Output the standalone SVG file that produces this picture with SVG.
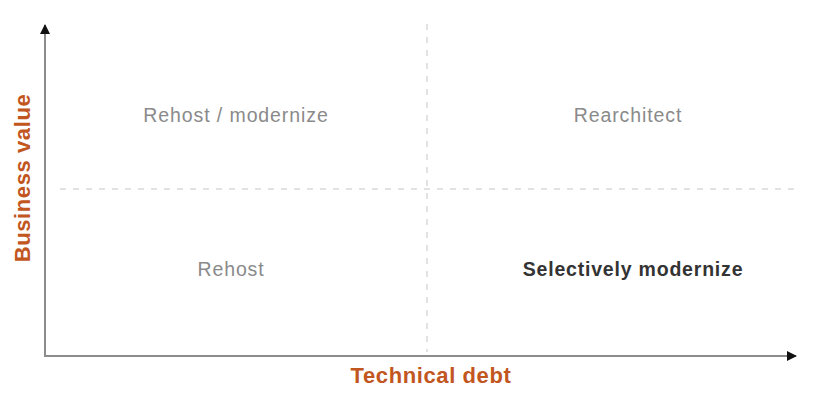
<svg xmlns="http://www.w3.org/2000/svg" width="816" height="410" viewBox="0 0 816 410">
<style>
.q{font-family:"Liberation Sans",Arial,sans-serif;font-size:19.5px;letter-spacing:0.9px;fill:#8a8a8a;text-anchor:middle}
.qb{font-family:"Liberation Sans",Arial,sans-serif;font-size:19.5px;letter-spacing:0.8px;fill:#333;font-weight:bold;text-anchor:middle}
.ax{font-family:"Liberation Sans",Arial,sans-serif;font-size:22px;letter-spacing:0.6px;fill:#c2561f;font-weight:bold;text-anchor:middle}
.axis{stroke:#8c8c8c;stroke-width:2;fill:none}
.dash{stroke:#d9d9d9;stroke-width:1.5;stroke-dasharray:6 7;fill:none}
</style>
<defs>
<marker id="arr" viewBox="0 0 10 10" refX="9" refY="5" markerWidth="10" markerHeight="10" markerUnits="userSpaceOnUse" orient="auto">
<path d="M0,0 L10,5 L0,10 z" fill="#111"/>
</marker>
</defs>
<rect width="816" height="410" fill="#fff"/>
<g id="connectors">
<line class="dash" x1="427" y1="24" x2="427" y2="352"/>
<line class="dash" x1="60" y1="189" x2="796" y2="189"/>
<line class="axis" x1="45" y1="357" x2="45" y2="25" marker-end="url(#arr)"/>
<line class="axis" x1="44" y1="356" x2="796" y2="356" marker-end="url(#arr)"/>
</g>
<g id="q1"><text class="q" x="236" y="122">Rehost / modernize</text></g>
<g id="q2"><text class="q" x="628" y="122">Rearchitect</text></g>
<g id="q3"><text class="q" x="231" y="276">Rehost</text></g>
<g id="q4"><text class="qb" x="633" y="276">Selectively modernize</text></g>
<g id="xlabel"><text class="ax" x="431" y="383">Technical debt</text></g>
<g id="ylabel"><text class="ax" transform="translate(30,178) rotate(-90)">Business value</text></g>
</svg>
